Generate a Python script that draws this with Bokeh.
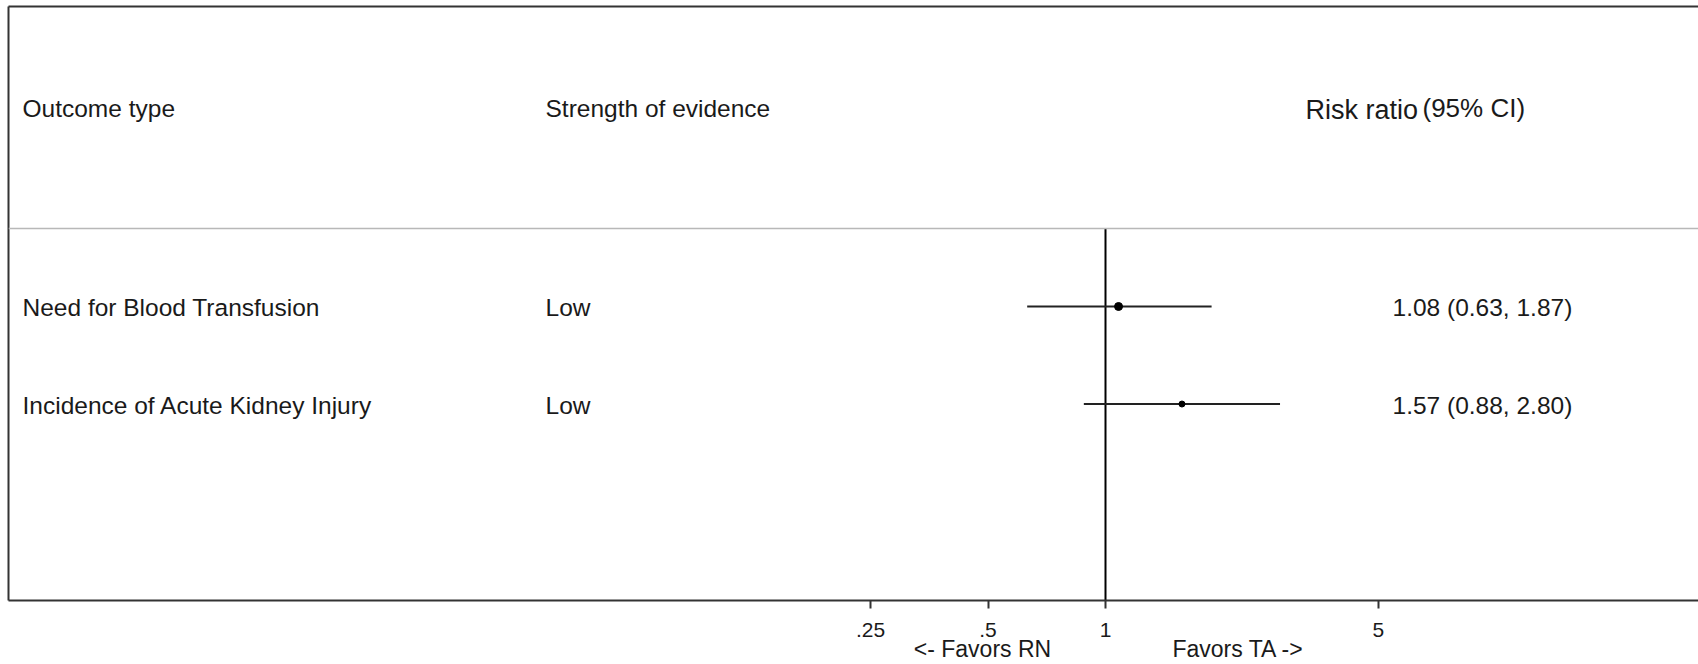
import math
from bokeh.plotting import figure
from bokeh.models import ColumnDataSource, Range1d, LogAxis, FixedTicker, Label, Span
from bokeh.core.properties import value
from bokeh.embed import file_html
from bokeh.resources import INLINE

# ---------------- data ----------------
outcomes = ["Need for Blood Transfusion", "Incidence of Acute Kidney Injury"]
strength = ["Low", "Low"]
risk_ratio = [1.08, 1.57]
ci_low = [0.63, 0.88]
ci_high = [1.87, 2.80]
rows = [1, 2]
tick_values = [0.25, 0.5, 1.0, 5.0]
tick_labels = [".25", ".5", "1", "5"]
header_outcome = "Outcome type"
header_strength = "Strength of evidence"
header_rr = "Risk ratio"
header_ci = "(95% CI)"
favors_labels = ["<- Favors RN", "Favors TA ->"]

# ---------------- layout / style ----------------
FONT = "Liberation Sans"
TXT = "#1a1a1a"
W, H = 1698, 664
LEFT, TOP, BOTTOM = 8, 6, 63
PX_PER_LN = 169.5
NULL_PX = 1105          # canvas x of RR = 1
ROW_PX = 97.7
ROW1_PX = 306.5         # canvas y of row 1
frame_h = H - TOP - BOTTOM
x_start = math.exp(-(NULL_PX - LEFT) / PX_PER_LN)
x_end = math.exp((W - NULL_PX) / PX_PER_LN)
y_top = 1 - (ROW1_PX - TOP) / ROW_PX
y_bottom = 1 + (TOP + frame_h - ROW1_PX) / ROW_PX
header_row = -1.03
divider_row = 0.2
favors_pos = [0.484, 2.19]   # label anchor positions on the RR scale
marker_px = [8, 6]

ci_text = [f"{r:.2f} ({l:.2f}, {h:.2f})" for r, l, h in zip(risk_ratio, ci_low, ci_high)]
src = ColumnDataSource(dict(row=rows, outcome=outcomes, strength=strength, rr=risk_ratio,
                            lo=ci_low, hi=ci_high, ci=ci_text, msize=marker_px))

p = figure(width=W, height=H, x_axis_type="log",
           x_range=Range1d(x_start, x_end), y_range=Range1d(y_bottom, y_top),
           output_backend="svg", toolbar_location=None,
           min_border_left=LEFT, min_border_top=TOP, min_border_bottom=BOTTOM, min_border_right=0)
p.grid.visible = False
p.outline_line_color = None
p.background_fill_color = "white"
p.border_fill_color = "white"

# bottom axis
xa = p.xaxis[0]
xa.ticker = FixedTicker(ticks=tick_values)
xa.major_label_overrides = {v: l for v, l in zip(tick_values, tick_labels)}
xa.minor_tick_line_color = None
xa.axis_line_color = "#333333"
xa.axis_line_width = 2
xa.major_tick_line_color = "#333333"
xa.major_tick_line_width = 2
xa.major_tick_in = 0
xa.major_tick_out = 8
xa.major_label_standoff = 14
xa.major_label_text_font = FONT
xa.major_label_text_font_size = "21px"
xa.major_label_text_color = TXT
xa.major_label_text_line_height = 0.7

# second bottom axis carrying the "favors" captions
fav = LogAxis(ticker=FixedTicker(ticks=favors_pos),
              major_label_overrides={v: l for v, l in zip(favors_pos, favors_labels)},
              axis_line_color=None, major_tick_line_color=None, minor_tick_line_color=None,
              major_tick_in=0, major_tick_out=0, minor_tick_in=0, minor_tick_out=0,
              major_label_standoff=-4, major_label_text_font=FONT,
              major_label_text_font_size="23px", major_label_text_color=TXT,
              major_label_text_line_height=0.7)
p.add_layout(fav, "below")

# left axis: line only
ya = p.yaxis[0]
ya.ticker = FixedTicker(ticks=[])
ya.major_tick_out = 0
ya.major_tick_in = 0
ya.minor_tick_out = 0
ya.minor_tick_in = 0
ya.major_label_text_font_size = "0px"
ya.major_label_standoff = 0
ya.axis_line_color = "#333333"
ya.axis_line_width = 2

# top axis: line only
top = LogAxis(ticker=FixedTicker(ticks=[]), major_tick_out=0, major_tick_in=0,
              minor_tick_out=0, minor_tick_in=0, major_label_text_font_size="0px",
              major_label_standoff=0, axis_line_color="#333333", axis_line_width=2)
p.add_layout(top, "above")

# divider and null line
p.add_layout(Span(location=divider_row, dimension="width", line_color="#b8b8b8", line_width=1.5))
p.segment(x0=1, y0=divider_row, x1=1, y1=y_bottom, line_color="black", line_width=2)

# CIs and point estimates
p.segment(x0="lo", y0="row", x1="hi", y1="row", source=src, line_color="#222222", line_width=2)
p.scatter(x="rr", y="row", size="msize", source=src, marker="circle",
          fill_color="black", line_color="black")

# row texts
common = dict(text_font=value(FONT), text_font_size="24.5px", text_color=TXT,
              text_baseline="middle", text_align="left", source=src)
p.text(x=x_start, y="row", text="outcome", x_offset=14, y_offset=1, **common)
p.text(x=x_start, y="row", text="strength", x_offset=537, y_offset=1, **common)
p.text(x=x_start, y="row", text="ci", x_offset=1384, y_offset=1, **common)

# headers
def lab(text, x, y, xo, yo, size, align="left", baseline="middle"):
    p.add_layout(Label(x=x, y=y, text=text, x_offset=xo, y_offset=yo,
                       text_font=FONT, text_font_size=size, text_color=TXT,
                       text_align=align, text_baseline=baseline))

lab(header_outcome, x_start, header_row, 14, 0, "24.5px")
lab(header_strength, x_start, header_row, 537, 0, "24.5px")
lab(header_rr, x_start, header_row, 1297, -2, "27px")
lab(header_ci, x_start, header_row, 1414, 0, "26px")

open("out.html", "w").write(file_html(p, INLINE))
